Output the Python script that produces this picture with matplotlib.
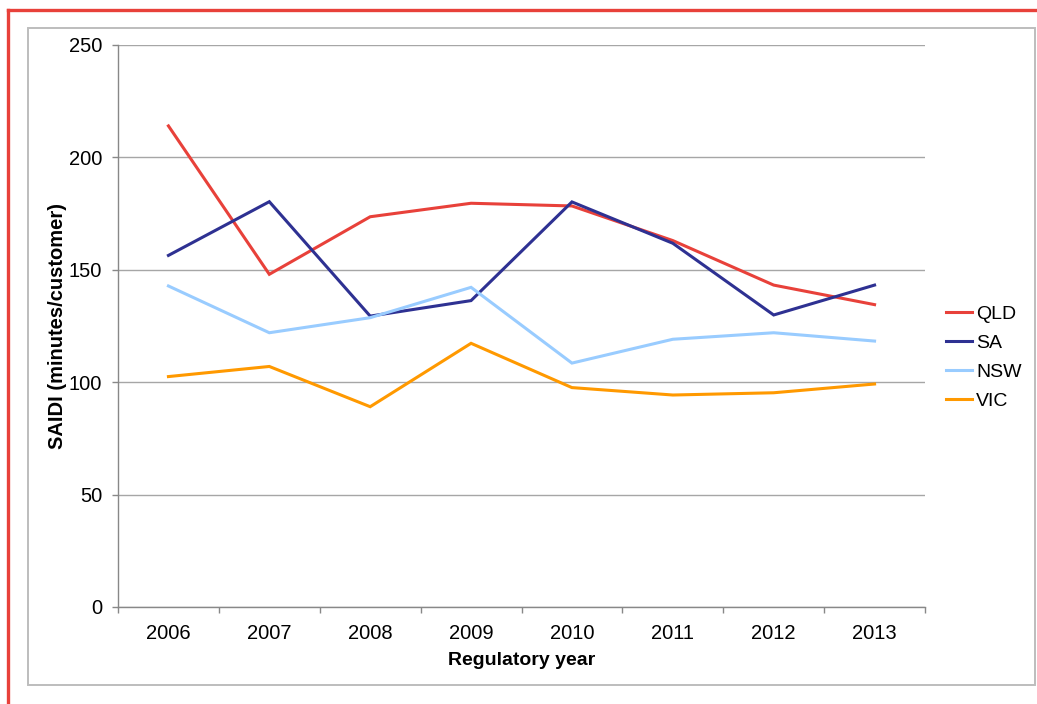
import matplotlib

matplotlib.use("Agg")

from matplotlib import pyplot as plt
from matplotlib.lines import Line2D
from matplotlib.patches import Rectangle

plt.rcParams["font.family"] = ["Liberation Sans", "DejaVu Sans"]

years = ["2006", "2007", "2008", "2009", "2010", "2011", "2012", "2013"]
qld = [214, 148, 173.6, 179.6, 178.4, 163, 143.2, 134.5]
sa = [156.4, 180.3, 129.4, 136.3, 180.2, 161.8, 129.9, 143.2]
nsw = [142.8, 122, 128.7, 142.2, 108.5, 119.1, 122, 118.3]
vic = [102.5, 107, 89.1, 117.3, 97.6, 94.3, 95.3, 99.2]

series = [
    ("QLD", qld, "#e8413a"),
    ("SA", sa, "#2e3192"),
    ("NSW", nsw, "#99ccff"),
    ("VIC", vic, "#ff9900"),
]

W, H = 1037, 704
fig = plt.figure(figsize=(W / 100, H / 100), dpi=100)

# outer frame: red rule along top and left, light grey chart box
fig.add_artist(Line2D([7.5 / W, 1.0], [1 - 9.5 / H, 1 - 9.5 / H], color="#e8413a", lw=2.4))
fig.add_artist(Line2D([7.5 / W, 7.5 / W], [1 - 9.5 / H, 0.0], color="#e8413a", lw=2.4))
fig.add_artist(Rectangle((28 / W, 1 - 685 / H), (1035 - 28) / W, (685 - 28) / H,
                         fill=False, edgecolor="#bdbdbd", lw=1.4))

ax = fig.add_axes([118 / W, 1 - 607 / H, (925 - 118) / W, (607 - 45) / H])

x = range(len(years))
for name, values, color in series:
    ax.plot(x, values, color=color, lw=2.2, label=name, solid_joinstyle="miter")

ax.set_xlim(-0.5, len(years) - 0.5)
ax.set_ylim(0, 250)
ax.set_yticks(range(0, 251, 50))
ax.yaxis.grid(True, color="#a6a6a6", lw=1.0)
ax.set_axisbelow(True)

# category ticks sit between the years, labels at the centres
ax.set_xticks([i - 0.5 for i in range(len(years) + 1)])
ax.set_xticklabels([])
ax.set_xticks(list(x), minor=True)
ax.set_xticklabels(years, minor=True)
ax.tick_params(axis="x", which="major", length=4.5, width=1, color="#888888", direction="out")
ax.tick_params(axis="x", which="minor", length=0, pad=12, labelsize=14.5)
ax.tick_params(axis="y", length=4.5, width=1, color="#888888", pad=7, labelsize=14.5)

for side in ("top", "right"):
    ax.spines[side].set_visible(False)
for side in ("left", "bottom"):
    ax.spines[side].set_color("#888888")
    ax.spines[side].set_linewidth(1.0)

ax.set_xlabel("Regulatory year", fontsize=14, fontweight="bold", labelpad=6.5)
ax.set_ylabel("SAIDI (minutes/customer)", fontsize=14.5, fontweight="bold", labelpad=1)

fig.legend(loc="center left", bbox_to_anchor=(946 / W, 1 - 357.5 / H), frameon=False,
           fontsize=14, handlelength=1.35, handletextpad=0.2, labelspacing=0.58,
           borderpad=0, borderaxespad=0)

fig.savefig("out.png", dpi=100)
